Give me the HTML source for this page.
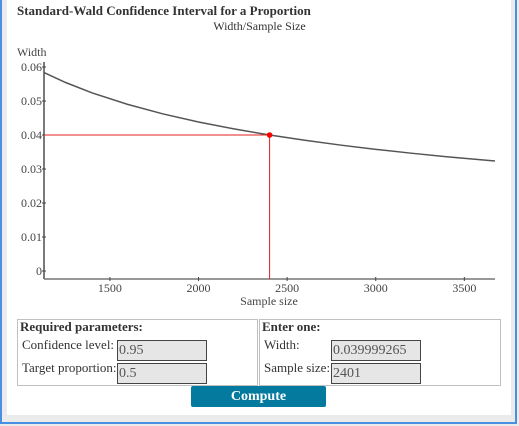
<!DOCTYPE html>
<html><head><meta charset="utf-8"><style>
body{margin:0;width:519px;height:426px;background:#ebebeb;position:relative;overflow:hidden;font-family:"Liberation Serif",serif;color:#333}
#outer{position:absolute;left:0;top:0;width:517px;height:424px;border-left:2px solid #4a90e2;border-right:2px solid #4a90e2;border-bottom:2px solid #4a90e2;box-sizing:border-box}
#panel{position:absolute;left:7px;top:0;width:504px;height:415px;background:#fff}
.abs{position:absolute}
svg text{font-family:"Liberation Serif",serif;font-size:12px;fill:#444}
.box{position:absolute;border:1px solid #c0c0c0;box-sizing:border-box}
.lbl{position:absolute;font-size:13px}
.inp{position:absolute;width:90px;height:21px;background:#e6e6e6;border:1px solid #444;box-sizing:border-box;font-size:14px;color:#555;padding:2px 0 0 1px;font-family:"Liberation Serif",serif}
</style></head><body>
<div id="outer"></div>
<div id="panel"></div>
<div class="abs" style="left:17px;top:3px;font-size:13px;font-weight:bold">Standard-Wald Confidence Interval for a Proportion</div>
<div class="abs" style="left:0;width:519px;top:19px;text-align:center;font-size:12px">Width/Sample Size</div>
<svg class="abs" style="left:0;top:0" width="519" height="320" id="chart"></svg>
<div class="box" style="left:17px;top:319px;width:241px;height:67px"></div>
<div class="box" style="left:259px;top:319px;width:242px;height:67px"></div>
<div class="lbl" style="left:20px;top:319px;font-weight:bold">Required parameters:</div>
<div class="lbl" style="left:262px;top:319px;font-weight:bold">Enter one:</div>
<div class="lbl" style="left:22px;top:337px">Confidence level:</div>
<div class="lbl" style="left:22px;top:360px">Target proportion:</div>
<div class="lbl" style="left:264px;top:337px">Width:</div>
<div class="lbl" style="left:264px;top:360px">Sample size:</div>
<div class="inp" style="left:117px;top:340px">0.95</div>
<div class="inp" style="left:117px;top:363px">0.5</div>
<div class="inp" style="left:331px;top:340px">0.039999265</div>
<div class="inp" style="left:331px;top:363px">2401</div>
<div class="abs" style="left:191px;top:386px;width:135px;height:21px;background:#057a9f;border-radius:2px;color:#fff;font-weight:bold;font-size:14px;text-align:center;line-height:21px">Compute</div>
<script>
const xTicks=[1500,2000,2500,3000,3500];
const yTicks=[0,0.01,0.02,0.03,0.04,0.05,0.06];
const yTickLabels=["0","0.01","0.02","0.03","0.04","0.05","0.06"];
const sampleSizes=[1128,1250,1400,1600,1800,2000,2200,2401,2600,2800,3000,3200,3400,3673];
const widths=[0.05836,0.05544,0.05238,0.04900,0.04620,0.04383,0.04179,0.04000,0.03844,0.03704,0.03578,0.03465,0.03361,0.03234];
const targetN=2401;
const targetW=0.039999265;
const xMin=1128,xMax=3673;
const X=v=>44+(v-xMin)/(xMax-xMin)*451;
const Y=v=>271-v*3400;
const svg=document.getElementById('chart');
const NS='http://www.w3.org/2000/svg';
function mk(t,a){const e=document.createElementNS(NS,t);for(const k in a)e.setAttribute(k,a[k]);svg.appendChild(e);return e;}
let e=mk('line',{x1:44,y1:62,x2:44,y2:279,stroke:'#222','stroke-width':1.2});


e=mk('line',{x1:44,y1:279,x2:495,y2:279,stroke:'#777','stroke-width':1.5});


yTicks.forEach((v,i)=>{
  const t=mk('line',{x1:42,x2:46,y1:Y(v),y2:Y(v),stroke:'#444'});
  
  
  const l=mk('text',{x:42,y:Y(v)+4,'text-anchor':'end'});l.textContent=yTickLabels[i];
  
  
});
xTicks.forEach(v=>{
  const t=mk('line',{x1:X(v),x2:X(v),y1:277,y2:281,stroke:'#444'});
  
  
  const l=mk('text',{x:X(v),y:292,'text-anchor':'middle'});l.textContent=v;
  
  
});
let t=mk('text',{x:17,y:56});t.textContent='Width';


t=mk('text',{x:269,y:305,'text-anchor':'middle'});t.textContent='Sample size';


e=mk('path',{d:sampleSizes.map((n,i)=>(i?'L':'M')+X(n)+','+Y(widths[i])).join(''),fill:'none',stroke:'#555','stroke-width':1.5});


e=mk('line',{x1:44,y1:Y(targetW),x2:X(targetN),y2:Y(targetW),stroke:'#e02020','stroke-width':1});


e=mk('line',{x1:X(targetN),y1:Y(targetW),x2:X(targetN),y2:279,stroke:'#e02020','stroke-width':1});


e=mk('circle',{cx:X(targetN),cy:Y(targetW),r:2.8,fill:'#f00'});


</script>
</body></html>
